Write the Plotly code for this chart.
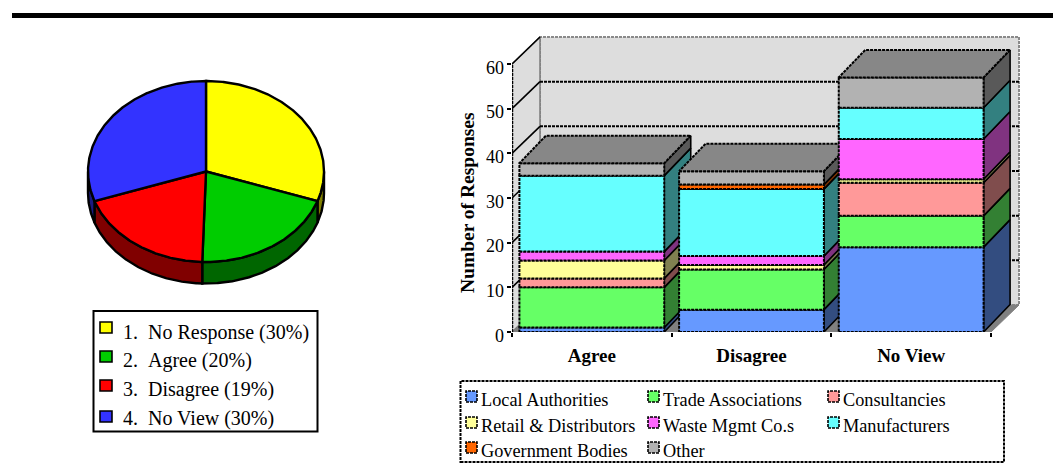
import math
import plotly.graph_objects as go

W, H = 1053, 471

# Pie chart data
pie_labels = ["1.\u00a0\u00a0No Response (30%)", "2.\u00a0\u00a0Agree (20%)",
              "3.\u00a0\u00a0Disagree (19%)", "4.\u00a0\u00a0No View (30%)"]
pie_values = [30, 20, 19, 30]
pie_colors = ["#ffff00", "#00cc00", "#ff0000", "#3333ff"]
pie_sides = ["#808000", "#006600", "#800000", "#1a1a80"]

# Stacked column data
categories = ["Agree", "Disagree", "No View"]
series_names = ["Local Authorities", "Trade Associations", "Consultancies",
                "Retail & Distributors", "Waste Mgmt Co.s", "Manufacturers",
                "Government Bodies", "Other"]
local_authorities = [1, 5, 19]
trade_associations = [9, 9, 7]
consultancies = [2, 0, 7.4]
retail_distributors = [4, 1, 0.8]
waste_mgmt = [2, 2, 9]
manufacturers = [17, 15, 7]
government_bodies = [0, 1, 0]
other = [2.8, 3, 6.8]
series_values = [local_authorities, trade_associations, consultancies,
                 retail_distributors, waste_mgmt, manufacturers,
                 government_bodies, other]
front_colors = ["#6699ff", "#66ff66", "#ff9999", "#ffff99",
                "#ff66ff", "#66ffff", "#ff6600", "#b2b2b2"]
side_colors = ["#334d80", "#338033", "#804d4d", "#808050",
               "#803380", "#338080", "#803300", "#595959"]
top_color = "#878787"
y_ticks = [0, 10, 20, 30, 40, 50, 60]

# Pixel placement of the two plot areas
PX_X0, PX_X3, PX_XR = 512, 991, 1022   # column axis: value 0, value 3, right end
PX_Y0, PX_Y60, PX_YT = 332, 64, 30     # column axis: value 0, value 60, top end
x_unit = (PX_X3 - PX_X0) / 3
y_unit = (PX_Y0 - PX_Y60) / 60
x_max = (PX_XR - PX_X0) / x_unit
y_max = (PX_Y0 - PX_YT) / y_unit

wall_dx = 28 / x_unit
wall_dy = 27 / y_unit
bar_dx = 26.5 / x_unit
bar_dy = 27.5 / y_unit
bar_pad = 0.0465   # gap either side of a column inside its band

DASH = "3px,1px"
fig = go.Figure()


def poly(xs, ys, fill, line="#000000", width=1.6, dash=None, xa="x", ya="y"):
    fig.add_trace(go.Scatter(
        x=xs + xs[:1], y=ys + ys[:1], xaxis=xa, yaxis=ya, mode="lines",
        fill="toself", fillcolor=fill,
        line=dict(color=line, width=width, dash=dash),
        hoverinfo="skip", showlegend=False))


def seg(xs, ys, color="#000000", width=1.6, dash=None):
    fig.add_trace(go.Scatter(
        x=xs, y=ys, mode="lines", line=dict(color=color, width=width, dash=dash),
        hoverinfo="skip", showlegend=False))


# Walls and floor of the 3D box
poly([wall_dx, 3 + wall_dx, 3 + wall_dx, wall_dx], [wall_dy, wall_dy, 60 + wall_dy, 60 + wall_dy],
     "#dddddd", line="#8a8a8a", width=2, dash=DASH)
poly([0, wall_dx, wall_dx, 0], [0, wall_dy, 60 + wall_dy, 60], "#dddddd", line="#808080", width=1.6)
poly([0, 3, 3 + wall_dx, wall_dx], [0, 0, wall_dy, wall_dy], "#808080", line="#808080", width=1)

# Gridlines across side and back walls
for t in y_ticks[1:]:
    seg([0, wall_dx], [t, t + wall_dy])
    if t < 60:
        seg([wall_dx, 3 + wall_dx], [t + wall_dy, t + wall_dy], dash=DASH, width=2)

# Columns are painted left to right, bottom segment first
for i, cat in enumerate(categories):
    left, right = i + bar_pad, i + 1 - bar_pad
    base = 0
    for values, front, side in zip(series_values, front_colors, side_colors):
        v = values[i]
        if v <= 0:
            continue
        top = base + v
        poly([right, right + bar_dx, right + bar_dx, right],
             [base, base + bar_dy, top + bar_dy, top], side, width=1.6)
        poly([left, right, right, left], [base, base, top, top], front, width=2, dash=DASH)
        base = top
    poly([left, right, right + bar_dx, left + bar_dx],
         [base, base, base + bar_dy, base + bar_dy], top_color, width=2, dash=DASH)

# Pie: unit circle on its own axes, squashed into an ellipse by the axis scales
PIE_CX, PIE_CY, PIE_RX, PIE_RY = 206, 171.5, 118, 90.5
PIE_BOX = (70, 340, 60, 300)   # left, right, top, bottom in pixels
pie_depth = 21.5 / PIE_RY
xr2 = [(PIE_BOX[0] - PIE_CX) / PIE_RX, (PIE_BOX[1] - PIE_CX) / PIE_RX]
yr2 = [(PIE_CY - PIE_BOX[3]) / PIE_RY, (PIE_CY - PIE_BOX[2]) / PIE_RY]


def arc(a0, a1):
    n = max(2, int(abs(a1 - a0)) * 2)
    angs = [math.radians(a0 + (a1 - a0) * k / n) for k in range(n + 1)]
    return [math.sin(a) for a in angs], [math.cos(a) for a in angs]


total = sum(pie_values)
edges = [0]
for v in pie_values:
    edges.append(edges[-1] + v / total * 360)

for k in range(4):
    a0, a1 = max(edges[k], 90), min(edges[k + 1], 270)
    if a1 > a0:
        xs, ys = arc(a0, a1)
        poly(xs + xs[::-1], ys + [y - pie_depth for y in ys[::-1]], pie_sides[k],
             width=2.4, xa="x2", ya="y2")
for k in range(4):
    xs, ys = arc(edges[k], edges[k + 1])
    poly([0] + xs, [0] + ys, pie_colors[k], width=2.4, xa="x2", ya="y2")


def px_x(p):
    return p / W


def px_y(p):
    return 1 - p / H


shapes = [dict(type="rect", xref="paper", yref="paper", x0=px_x(12), x1=1,
               y0=px_y(18), y1=px_y(13), fillcolor="#000000", line_width=0)]
annotations = []


def swatch(x0, y0, x1, y1, color, dash=None):
    shapes.append(dict(type="rect", xref="paper", yref="paper", x0=px_x(x0), x1=px_x(x1),
                       y0=px_y(y1), y1=px_y(y0), fillcolor=color,
                       line=dict(color="#000000", width=1.6, dash=dash)))


def label(x, y, text, size=16):
    annotations.append(dict(xref="paper", yref="paper", x=px_x(x - 2), y=px_y(y), text=text,
                            showarrow=False, xanchor="left", yanchor="middle",
                            font=dict(family="Liberation Serif", size=size, color="#000000")))


# Pie legend
shapes.append(dict(type="rect", xref="paper", yref="paper", x0=px_x(93.5), x1=px_x(317.5),
                   y0=px_y(431.5), y1=px_y(311), line=dict(color="#000000", width=2)))
swatch_rows = [331, 360, 389, 420]
text_rows = [332, 360, 389, 418]
for k, name in enumerate(pie_labels):
    swatch(100, swatch_rows[k] - 9, 112, swatch_rows[k] + 2, pie_colors[k])
    label(123, text_rows[k], name, size=20)

# Column legend
shapes.append(dict(type="rect", xref="paper", yref="paper", x0=px_x(460.5), x1=px_x(1004),
                   y0=px_y(462), y1=px_y(381), line=dict(color="#000000", width=2, dash=DASH)))
col_x = [466, 648, 828]
row_y = [400, 426, 451]
for k, name in enumerate(series_names):
    r, c = k // 3, k % 3
    swatch(col_x[c], row_y[r] - 9, col_x[c] + 11, row_y[r] + 2, front_colors[k], dash=DASH)
    label(col_x[c] + 15, row_y[r], name.replace("&", "&amp;"), size=18.3)

# Value axis title
annotations.append(dict(xref="paper", yref="paper", x=px_x(467), y=px_y(203),
                        text="<b>Number of Responses</b>", textangle=-90, showarrow=False,
                        font=dict(family="Liberation Serif", size=19.5, color="#000000")))

# Value axis labels sit slightly below their tick marks
for t in y_ticks:
    annotations.append(dict(xref="x", yref="y", x=0, y=t, text=str(t), showarrow=False,
                            xanchor="right", yanchor="middle", xshift=-6, yshift=-3.5,
                            font=dict(family="Liberation Serif", size=18, color="#000000")))

fig.update_layout(
    width=W, height=H, margin=dict(l=0, r=0, t=0, b=0), autosize=False,
    paper_bgcolor="#ffffff", plot_bgcolor="rgba(0,0,0,0)", showlegend=False,
    shapes=shapes, annotations=annotations,
    font=dict(family="Liberation Serif", color="#000000"),
    xaxis=dict(domain=[PX_X0 / W, PX_XR / W], range=[0, x_max], showgrid=False, zeroline=False,
               automargin=False,
               tickmode="array", tickvals=[i + 0.5 for i in range(3)], ticktext=categories,
               ticks="", ticklabelstandoff=10,
               tickfont=dict(size=19, family="Liberation Serif", weight="bold"),
               showline=False,
               minor=dict(tickmode="array", tickvals=[0, 1, 2, 3], ticks="outside",
                          ticklen=4, tickwidth=1.5, tickcolor="#000000")),
    yaxis=dict(domain=[1 - PX_Y0 / H, 1 - PX_YT / H], range=[0, y_max], showgrid=False,
               automargin=False,
               zeroline=False, tickmode="array", tickvals=y_ticks, ticks="outside", ticklen=4,
               tickwidth=2, tickcolor="#000000", showticklabels=False,
               showline=False),
    xaxis2=dict(domain=[PIE_BOX[0] / W, PIE_BOX[1] / W], range=xr2, visible=False, automargin=False),
    yaxis2=dict(domain=[1 - PIE_BOX[3] / H, 1 - PIE_BOX[2] / H], range=yr2, visible=False, automargin=False),
)

# Front value axis, stopping at 60
seg([0, 0], [0, 60], width=2.5, dash=DASH)

fig.write_html("out.html", config=dict(displayModeBar=False, responsive=False))
